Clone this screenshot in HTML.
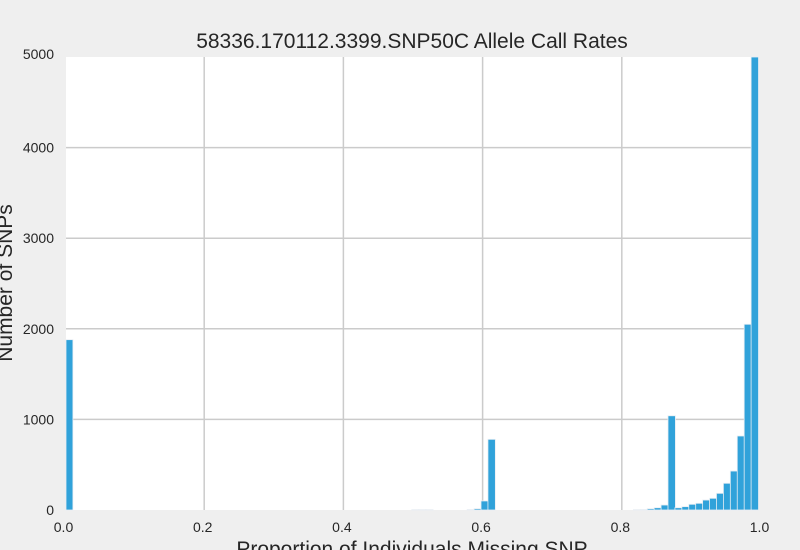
<!DOCTYPE html>
<html><head><meta charset="utf-8"><style>
body{margin:0;background:#efefef;}
svg{display:block;font-family:"Liberation Sans",sans-serif;}
</style></head><body>
<svg id="chart" width="800" height="550">
<rect x="0" y="0" width="800" height="550" fill="#efefef"/>
<rect x="66" y="57" width="692" height="453" fill="#ffffff"/>
<g id="grid"></g>
<g id="bars"></g>
<g id="ticks"></g>
<text x="412" y="48" text-anchor="middle" font-size="21" fill="#262626">58336.170112.3399.SNP50C Allele Call Rates</text>
<text x="412" y="556" text-anchor="middle" font-size="21" fill="#262626">Proportion of Individuals Missing SNP</text>
<text transform="translate(12,283) rotate(-90)" text-anchor="middle" font-size="21" fill="#262626">Number of SNPs</text>
</svg>
<script>
const binCounts = [1880,0,0,0,0,0,0,0,0,0, 0,0,0,0,0,0,0,0,0,0, 0,0,0,0,0,0,0,0,0,0, 0,0,0,0,0,0,0,0,0,0, 0,0,0,0,0,0,0,0,0,0, 4,4,4,0,0,0,0,0,5,15, 100,780,0,0,0,0,0,0,0,0, 0,0,0,0,0,0,0,0,0,0, 0,0,4,5,15,25,55,1040,25,37, 63,74,110,129,184,295,430,817,2050,5800];
const binWidth = 0.00995;
const xTicks = [0.0,0.2,0.4,0.6,0.8,1.0];
const xTickLabels = ["0.0","0.2","0.4","0.6","0.8","1.0"];
const yTicks = [0,1000,2000,3000,4000,5000];
const yTickLabels = ["0","1000","2000","3000","4000","5000"];
const NS="http://www.w3.org/2000/svg";
const X0=65.5, PXW=696, Y0=510, YTOP=57, YMAX=5000;
const xs=v=>X0+v*PXW;
const ys=v=>Y0-(v/YMAX)*(Y0-YTOP);
const grid=document.getElementById('grid'), bars=document.getElementById('bars'), ticks=document.getElementById('ticks');
function mk(t,a,p){const e=document.createElementNS(NS,t);for(const k in a)e.setAttribute(k,a[k]);p.appendChild(e);return e;}
xTicks.forEach((v,i)=>{
  if(v>0&&v<1){const l=mk('line',{x1:xs(v)-0.5,x2:xs(v)-0.5,y1:YTOP,y2:Y0,stroke:'#cbcbcb','stroke-width':1.5},grid);
  
  }
  const t=mk('text',{x:xs(v)-2,y:532,'text-anchor':'middle','font-size':14,fill:'#262626'},ticks);t.textContent=xTickLabels[i];
  
  
});
yTicks.forEach((v,i)=>{
  if(v>0&&v<YMAX){const l=mk('line',{x1:66,x2:758,y1:ys(v),y2:ys(v),stroke:'#cbcbcb','stroke-width':1.5},grid);
  
  }
  const t=mk('text',{x:54,y:ys(v)+(v===YMAX?2:5),'text-anchor':'end','font-size':14,fill:'#262626'},ticks);t.textContent=yTickLabels[i];
  
  
});
binCounts.forEach((c,i)=>{
  if(c<=0)return;
  const x1=Math.max(xs(i*binWidth),66), x2=xs((i+1)*binWidth)+0.5;
  const top=Math.max(ys(c),YTOP);
  const r=mk('rect',{x:x1,y:top,width:x2-x1,height:Y0-top,fill:'#30a2da',stroke:'#e8eef4','stroke-width':0.8},bars);
  
  
});
</script>
</body></html>
